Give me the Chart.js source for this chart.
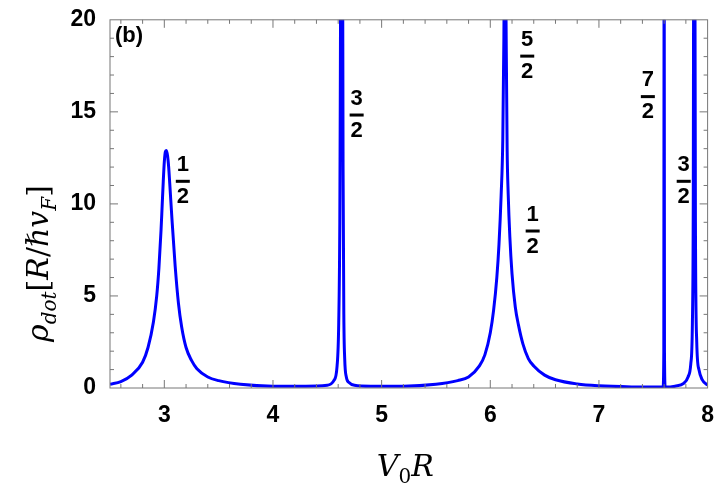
<!DOCTYPE html>
<html><head><meta charset="utf-8">
<script src="https://cdn.jsdelivr.net/npm/chart.js@4"></script>
<style>body{margin:0;background:#fff}#wrap{width:720px;height:501px}</style>
</head><body><div id="wrap"><canvas id="c"></canvas></div>
<script>
// curve
const xs = [2.5,2.6,2.7,2.8,2.85,2.9,2.93,2.95,2.97,2.98,2.99,3.0,3.01,3.02,3.03,3.04,3.05,3.07,3.1,3.13,3.16,3.2,3.25,3.3,3.4,3.5,3.7,4.0,4.3,4.5,4.56,4.59,4.605,4.615,4.62,4.625,4.632,4.64,4.645,4.652,4.66,4.675,4.7,4.75,4.9,5.2,5.5,5.7,5.8,5.9,5.95,6.0,6.03,6.06,6.08,6.1,6.115,6.125,6.135,6.145,6.155,6.165,6.18,6.2,6.23,6.26,6.3,6.35,6.4,6.5,6.6,6.8,7.0,7.3,7.5,7.59,7.597,7.6,7.603,7.61,7.7,7.78,7.82,7.845,7.86,7.868,7.874,7.88,7.888,7.9,7.92,7.95,8.0];
const ys = [0.2,0.35,0.7,1.4,2.2,3.6,5.0,6.5,8.6,9.9,11.2,12.3,12.85,12.9,12.6,12.0,11.1,9.2,6.6,4.6,3.3,2.2,1.5,1.05,0.6,0.4,0.2,0.1,0.1,0.15,0.4,1.2,3.5,9,17,26,30,26,12,4,1.6,0.6,0.3,0.15,0.1,0.1,0.2,0.4,0.6,1.2,1.8,3.0,4.2,6.0,7.8,10.5,13.5,19,28,20,13,10.5,8.2,6.2,4.4,3.4,2.4,1.6,1.2,0.7,0.45,0.22,0.12,0.06,0.05,0.05,2,30,2,0.05,0.1,0.25,0.6,1.3,3.5,10,30,30,9,2.5,1.0,0.45,0.15];
const peakLabels = [['1','2',3.17,11.2],['3','2',4.77,14.8],['5','2',6.34,18.0],['1','2',6.39,8.5],['7','2',7.45,15.8],['3','2',7.78,11.2]];
const xTicks = [3,4,5,6,7,8];
const yTicks = [0,5,10,15,20];

const deco = {
  id: 'deco',
  afterDraw(ch) {
    const {ctx, chartArea: a, scales: {x, y}} = ch;
    ctx.save();
    ctx.strokeStyle = '#777'; ctx.lineWidth = 1;
    ctx.strokeRect(a.left, a.top, a.right - a.left, a.bottom - a.top);
    ctx.beginPath();
    for (let v = 2.6; v < 8; v += 0.2) {
      const px = x.getPixelForValue(v), big = Math.abs(v - Math.round(v)) < 0.01;
      const L = big ? 8 : 4;
      ctx.moveTo(px, a.bottom); ctx.lineTo(px, a.bottom - L);
      ctx.moveTo(px, a.top); ctx.lineTo(px, a.top + L);
    }
    for (let v = 1; v < 20; v += 1) {
      const py = y.getPixelForValue(v), L = v % 5 === 0 ? 8 : 4;
      ctx.moveTo(a.left, py); ctx.lineTo(a.left + L, py);
      ctx.moveTo(a.right, py); ctx.lineTo(a.right - L, py);
    }
    ctx.stroke();
    ctx.fillStyle = '#000';
    ctx.font = 'bold 22px "Liberation Sans", Arial';
    ctx.textAlign = 'left'; ctx.textBaseline = 'top';
    ctx.fillText('(b)', a.left + 5, a.top + 5);
    ctx.textAlign = 'center'; ctx.textBaseline = 'middle';
    peakLabels.forEach(([n, d, vx, vy]) => {
      const px = x.getPixelForValue(vx), py = y.getPixelForValue(vy);
      ctx.fillText(n, px, py - 17);
      ctx.fillRect(px - 7, py - 2, 14, 3);
      ctx.fillText(d, px, py + 15);
    });
    // axis titles
    ctx.font = 'italic 30px "DejaVu Serif", serif';
    ctx.textAlign = 'left'; ctx.textBaseline = 'alphabetic';
    let cx = (a.left + a.right) / 2 - 32, by = 476;
    ctx.fillText('V', cx, by); cx += ctx.measureText('V').width;
    ctx.font = '20px "DejaVu Serif", serif'; ctx.fillText('0', cx, by + 7); cx += ctx.measureText('0').width;
    ctx.font = 'italic 30px "DejaVu Serif", serif'; ctx.fillText('R', cx, by);
    ctx.translate(48, (a.top + a.bottom) / 2 + 138); ctx.rotate(-Math.PI / 2);
    let tx = 0;
    const part = (t, f, dy) => { ctx.font = f; ctx.fillText(t, tx, dy); tx += ctx.measureText(t).width; };
    part('ρ', 'italic 30px "DejaVu Serif", serif', 0);
    part('dot', 'italic 20px "DejaVu Serif", serif', 8);
    part('[', '30px "DejaVu Serif", serif', 0);
    part('R', 'italic 30px "DejaVu Serif", serif', 0);
    part('/', '30px "DejaVu Serif", serif', 0);
    part('ℏv', 'italic 30px "DejaVu Serif", serif', 0);
    part('F', 'italic 20px "DejaVu Serif", serif', 8);
    part(']', '30px "DejaVu Serif", serif', 0);
    ctx.restore();
  }
};

new Chart(document.getElementById('c'), {
  type: 'line',
  data: { datasets: [{ data: xs.map((v, i) => ({x: v, y: ys[i]})), borderColor: '#0000ff', borderWidth: 3, pointRadius: 0, cubicInterpolationMode: 'monotone', fill: false }] },
  options: {
    responsive: true, maintainAspectRatio: false, animation: false,
    layout: { padding: { top: 18, right: 10, left: 0, bottom: 0 } },
    plugins: { legend: { display: false }, tooltip: { enabled: false } },
    scales: {
      x: { type: 'linear', min: 2.5, max: 8,
        afterBuildTicks: s => { s.ticks = xTicks.map(v => ({value: v})); },
        afterFit: s => { s.height = 113; },
        grid: { display: false }, border: { display: false },
        ticks: { color: '#000', font: { size: 23, weight: 'bold', family: '"Liberation Sans", Arial' }, padding: 6 } },
      y: { min: 0, max: 20,
        afterBuildTicks: s => { s.ticks = yTicks.map(v => ({value: v})); },
        afterFit: s => { s.width = 110; },
        grid: { display: false }, border: { display: false },
        ticks: { color: '#000', font: { size: 23, weight: 'bold', family: '"Liberation Sans", Arial' }, padding: 6 } }
    }
  },
  plugins: [deco]
});
</script></body></html>
